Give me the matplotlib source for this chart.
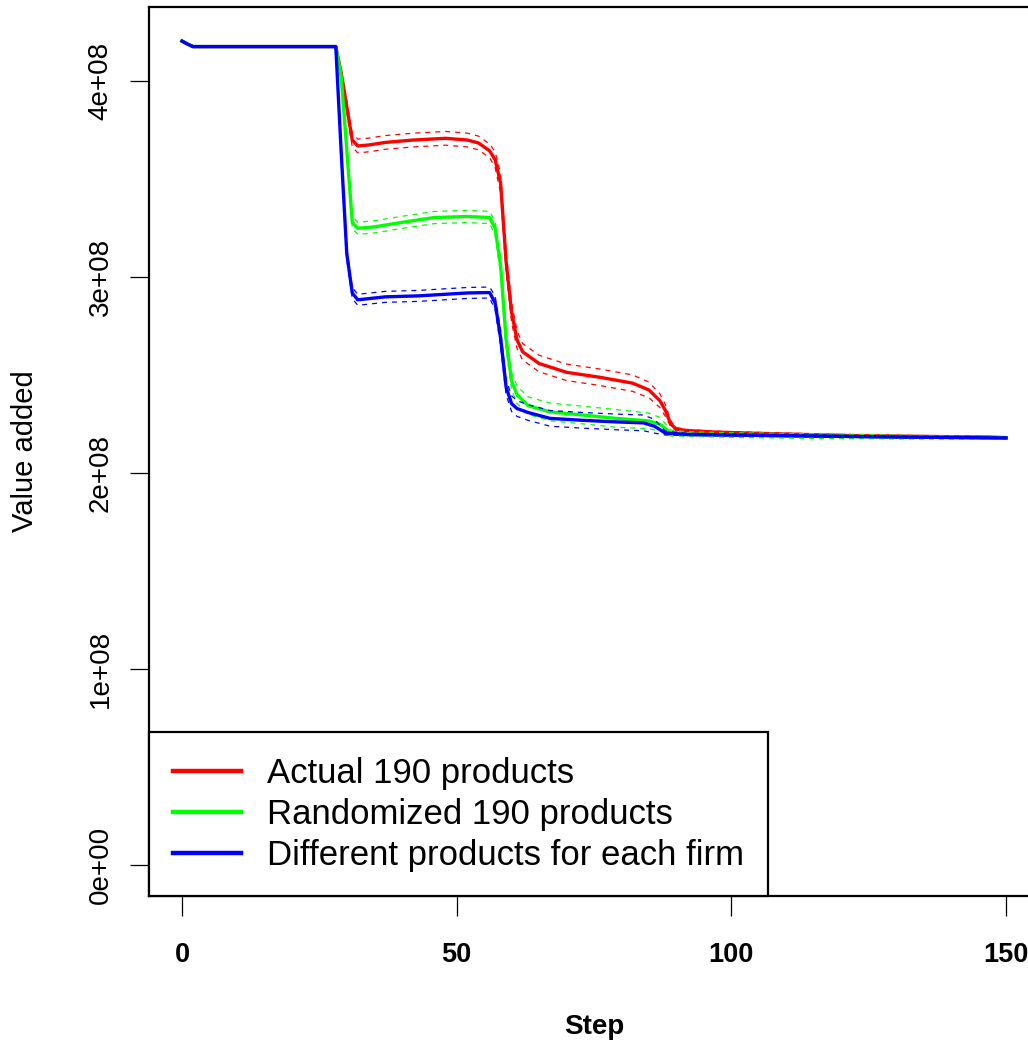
import numpy as np
import matplotlib.pyplot as plt

plt.rcParams['font.family'] = ['Liberation Sans', 'DejaVu Sans']

# values, in units of 1e8
red_steps = [0, 1, 2, 28, 29, 30, 31, 32, 34, 37, 42, 48, 52, 54, 56, 57, 58, 59, 60, 61,
             62, 65, 70, 76, 82, 85, 87, 88, 89, 90, 92, 97, 103, 110, 122, 135, 146, 150]
red_vals = [4.205, 4.19, 4.177, 4.177, 4.04, 3.87, 3.70, 3.67, 3.675, 3.688, 3.70, 3.709,
            3.70, 3.685, 3.645, 3.60, 3.48, 3.08, 2.82, 2.68, 2.62, 2.56, 2.515, 2.49,
            2.46, 2.425, 2.37, 2.32, 2.25, 2.225, 2.218, 2.21, 2.205, 2.20, 2.192, 2.188,
            2.185, 2.182]
red_sd = [0.004, 0.004, 0.004, 0.004, 0.02, 0.03, 0.035, 0.035, 0.035, 0.035, 0.035, 0.035,
          0.035, 0.035, 0.035, 0.04, 0.05, 0.05, 0.05, 0.045, 0.042, 0.042, 0.042, 0.042,
          0.042, 0.04, 0.035, 0.03, 0.015, 0.008, 0.005, 0.005, 0.005, 0.005, 0.004,
          0.004, 0.004, 0.004]

green_steps = [0, 1, 2, 28, 29, 30, 31, 32, 35, 40, 46, 52, 56, 57, 58, 59, 60, 61, 63, 67,
               73, 79, 85, 87, 89, 92, 100, 115, 130, 150]
green_vals = [4.205, 4.19, 4.177, 4.177, 4.02, 3.65, 3.28, 3.25, 3.257, 3.28, 3.305, 3.31,
              3.305, 3.25, 3.06, 2.68, 2.47, 2.40, 2.345, 2.313, 2.297, 2.28, 2.267, 2.25,
              2.205, 2.20, 2.195, 2.19, 2.185, 2.18]
green_sd = [0.004, 0.004, 0.004, 0.004, 0.02, 0.03, 0.031, 0.031, 0.031, 0.031, 0.031, 0.031,
            0.031, 0.035, 0.045, 0.045, 0.045, 0.045, 0.045, 0.045, 0.045, 0.045, 0.04,
            0.035, 0.015, 0.012, 0.012, 0.012, 0.01, 0.006]

blue_steps = [0, 1, 2, 28, 29, 30, 31, 32, 37, 43, 52, 56, 57, 58, 59, 60, 61, 63, 67, 73,
              79, 84, 86, 88, 92, 100, 115, 130, 150]
blue_vals = [4.205, 4.19, 4.177, 4.177, 3.63, 3.12, 2.92, 2.885, 2.90, 2.905, 2.92, 2.922,
             2.87, 2.69, 2.44, 2.355, 2.33, 2.31, 2.28, 2.27, 2.262, 2.257, 2.24, 2.205,
             2.198, 2.195, 2.19, 2.185, 2.18]
blue_sd = [0.004, 0.004, 0.004, 0.004, 0.02, 0.028, 0.028, 0.028, 0.028, 0.028, 0.028, 0.028,
           0.035, 0.04, 0.04, 0.04, 0.04, 0.04, 0.04, 0.04, 0.04, 0.04, 0.035, 0.01,
           0.006, 0.005, 0.005, 0.004, 0.004]

labels = ['Actual 190 products', 'Randomized 190 products', 'Different products for each firm']
colors = ['#ff0000', '#00ff00', '#0000ff']
series = [(red_steps, red_vals, red_sd), (green_steps, green_vals, green_sd),
          (blue_steps, blue_vals, blue_sd)]

fig = plt.figure(figsize=(10.28, 10.43), dpi=100)
ax = fig.add_axes([149/1028, 147/1043, (1039-149)/1028, (896-7)/1043])

handles = []
for (st, v, sd), c, lab in zip(series, colors, labels):
    v = np.array(v) * 1e8
    sd = np.array(sd) * 1e8
    h, = ax.plot(st, v, color=c, lw=2.4, label=lab)
    ax.plot(st, v + sd, color=c, lw=0.9, ls=(0, (4, 4)))
    ax.plot(st, v - sd, color=c, lw=0.9, ls=(0, (4, 4)))
    handles.append(h)

ax.set_xlim(-6, 156)
ax.set_ylim(-0.157e8, 4.379e8)

ax.set_xticks([0, 50, 100, 150])
ax.set_xticklabels(['0', '50', '100', '150'], fontweight='bold', fontsize=19.5)
ax.set_yticks([0, 1e8, 2e8, 3e8, 4e8])
ax.set_yticklabels(['0e+00', '1e+08', '2e+08', '3e+08', '4e+08'], fontsize=20,
                   rotation=90, va='center')
ax.tick_params(axis='x', length=14.4, width=0.9, pad=19)
ax.tick_params(axis='y', length=13.5, width=0.9, pad=12)
for s in ax.spines.values():
    s.set_linewidth(1.6)

ax.set_xlabel('Step', fontsize=20, fontweight='bold', va='center')
ax.xaxis.set_label_coords(0.5, (896-1027)/889)
ax.set_ylabel('Value added', fontsize=21, va='center', ha='center')
ax.yaxis.set_label_coords((25-149)/890, 0.5)

leg = ax.legend(handles=handles, loc='lower left', bbox_to_anchor=(0, 0), borderaxespad=0,
                fontsize=25, fancybox=False, edgecolor='black', framealpha=1,
                handlelength=1.95, handletextpad=0.75, borderpad=0.7, labelspacing=0.23)
leg.get_frame().set_linewidth(1.6)
for l in leg.get_lines():
    l.set_linewidth(3.2)

fig.savefig('out.png', dpi=100)
